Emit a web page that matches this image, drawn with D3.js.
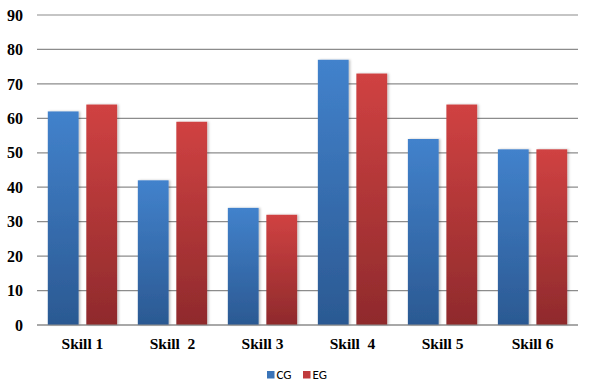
<!DOCTYPE html>
<html>
<head>
<meta charset="utf-8">
<script src="https://cdn.jsdelivr.net/npm/d3@7"></script>
<style>
  body { margin: 0; background: #fff; }
  .tick text { font-family: "Liberation Serif", "Times New Roman", serif; font-weight: bold; fill: #000; }
</style>
</head>
<body>
<div id="chart"></div>
<script>
const skills = ["Skill 1", "Skill  2", "Skill 3", "Skill  4", "Skill 5", "Skill 6"];
const series = ["CG", "EG"];
const cgValues = [62, 42, 34, 77, 54, 51];
const egValues = [64, 59, 32, 73, 64, 51];
const yTicks = [0, 10, 20, 30, 40, 50, 60, 70, 80, 90];

const width = 594, height = 389;
const margin = { top: 15, right: 16, bottom: 64, left: 37 };

const svg = d3.select("#chart").append("svg")
    .attr("width", width)
    .attr("height", height);

const defs = svg.append("defs");
const grads = [
    { id: "gradCG", top: "#4282cc", bottom: "#2b5992" },
    { id: "gradEG", top: "#d04242", bottom: "#8f2a2c" }
];
grads.forEach(g => {
    const lg = defs.append("linearGradient").attr("id", g.id)
        .attr("x1", 0).attr("y1", 0).attr("x2", 0).attr("y2", 1);
    lg.append("stop").attr("offset", "0%").attr("stop-color", g.top);
    lg.append("stop").attr("offset", "100%").attr("stop-color", g.bottom);
});
const shadow = defs.append("filter").attr("id", "shadow")
    .attr("x", "-20%").attr("y", "-5%").attr("width", "140%").attr("height", "110%");
shadow.append("feDropShadow").attr("dx", 1.5).attr("dy", 0).attr("stdDeviation", 1.2)
    .attr("flood-color", "#000").attr("flood-opacity", 0.25);

const x = d3.scaleBand()
    .domain(skills)
    .range([margin.left, width - margin.right])
    .paddingInner(0.23)
    .paddingOuter(0.12);

const xSub = d3.scaleBand()
    .domain(series)
    .range([0, x.bandwidth()])
    .paddingInner(0.2);

const y = d3.scaleLinear()
    .domain([0, 90])
    .range([height - margin.bottom, margin.top]);

// gridlines
svg.append("g")
    .selectAll("line")
    .data(yTicks)
    .join("line")
    .attr("x1", margin.left)
    .attr("x2", width - margin.right)
    .attr("y1", d => y(d))
    .attr("y2", d => y(d))
    .attr("stroke", "#8c8c8c")
    .attr("stroke-width", 1.2);

const yAxis = svg.append("g")
    .attr("transform", `translate(${margin.left},0)`)
    .call(d3.axisLeft(y).tickValues(yTicks).tickSize(0).tickPadding(14));
yAxis.select(".domain").remove();
yAxis.selectAll("text").style("font-size", "16px");

const data = skills.map((s, i) => ({ skill: s, values: [
    { key: "CG", value: cgValues[i] },
    { key: "EG", value: egValues[i] }
] }));

const groups = svg.append("g")
    .selectAll("g")
    .data(data)
    .join("g")
    .attr("transform", d => `translate(${x(d.skill)},0)`);

groups.selectAll("rect")
    .data(d => d.values)
    .join("rect")
    .attr("x", d => xSub(d.key))
    .attr("y", d => y(d.value))
    .attr("width", xSub.bandwidth())
    .attr("height", d => y(0) - y(d.value))
    .attr("fill", d => d.key === "CG" ? "url(#gradCG)" : "url(#gradEG)")
    .attr("filter", "url(#shadow)");

// baseline
svg.append("line")
    .attr("x1", margin.left)
    .attr("x2", width - margin.right)
    .attr("y1", y(0))
    .attr("y2", y(0))
    .attr("stroke", "#8c8c8c")
    .attr("stroke-width", 1.2);

const xAxis = svg.append("g")
    .attr("transform", `translate(0,${y(0)})`)
    .call(d3.axisBottom(x).tickSize(0).tickPadding(13));
xAxis.select(".domain").remove();
xAxis.selectAll("text").style("font-size", "15.5px").style("white-space", "pre");

// legend
const legend = svg.append("g")
    .attr("transform", `translate(267,374.5)`);
const legendColors = { CG: "#3a74b8", EG: "#c03a3c" };
const item = legend.selectAll("g")
    .data(series)
    .join("g")
    .attr("transform", (d, i) => `translate(${i * 36},0)`);
item.append("rect")
    .attr("x", 0).attr("y", -3.5)
    .attr("width", 7.5).attr("height", 7.5)
    .attr("fill", d => legendColors[d]);
item.append("text")
    .attr("x", 9.5).attr("y", 0)
    .attr("dy", "0.35em")
    .style("font-family", "Carlito, 'Liberation Sans', Arial, sans-serif")
    .style("font-size", "13px")
    .text(d => d);
</script>
</body>
</html>
